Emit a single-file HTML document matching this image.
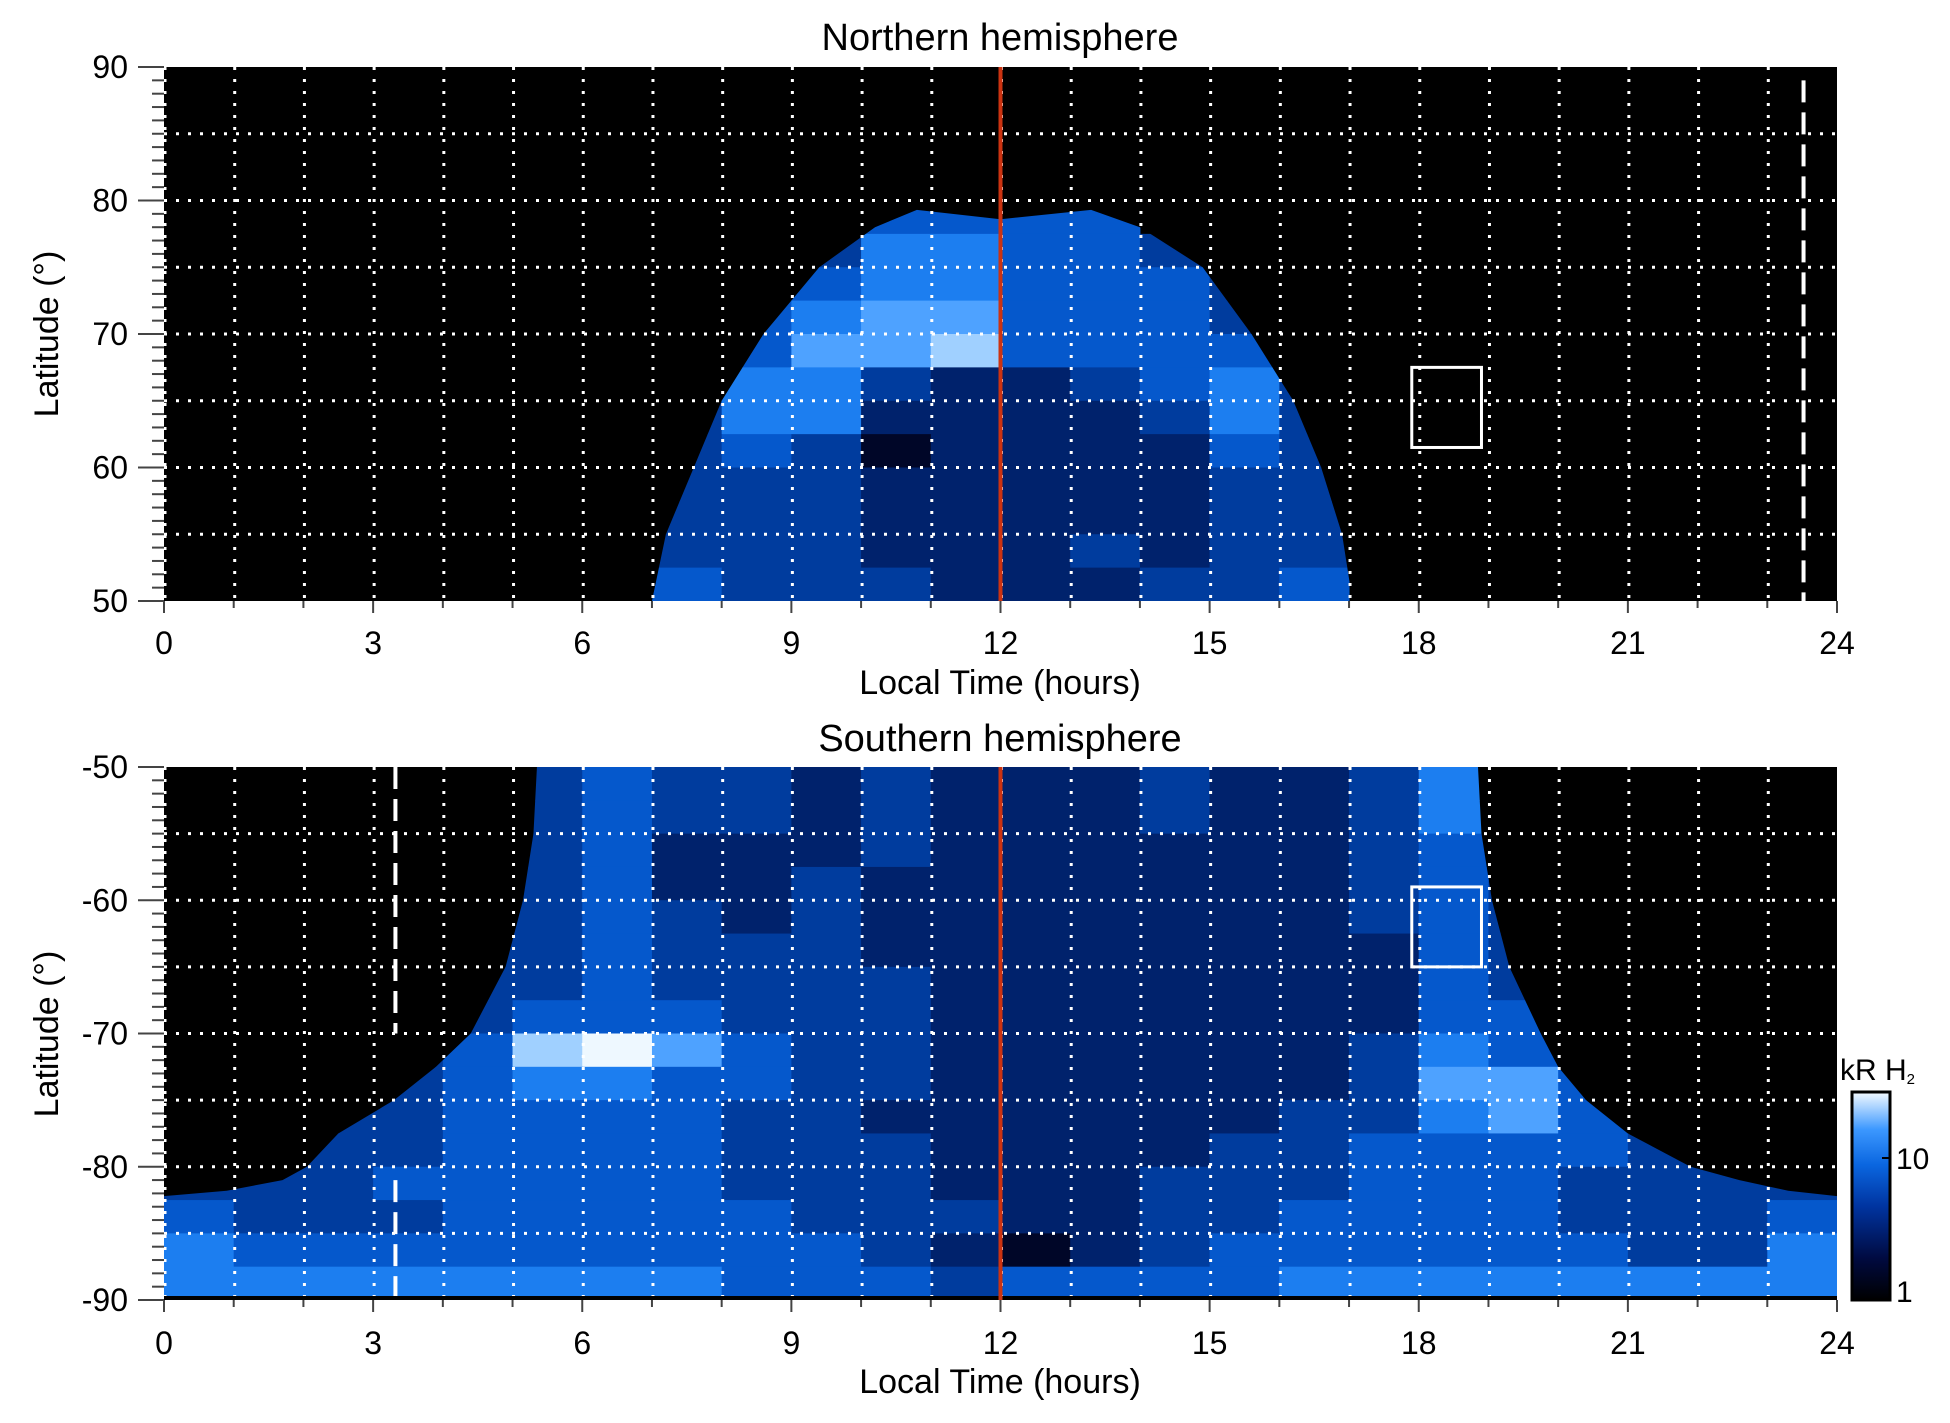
<!DOCTYPE html>
<html><head><meta charset="utf-8"><style>
html,body{margin:0;padding:0;background:#fff;}
svg{display:block;font-family:"Liberation Sans",Arial,sans-serif;}
</style></head><body>
<svg id="chart" width="1950" height="1423" viewBox="0 0 1950 1423" xmlns="http://www.w3.org/2000/svg">
<defs>
<clipPath id="clipN"><polygon id="clipNpoly" points=""/></clipPath>
<clipPath id="clipS"><polygon id="clipSpoly" points=""/></clipPath>
<linearGradient id="cbGrad" x1="0" y1="1" x2="0" y2="0">
<stop offset="0" stop-color="#000000"/><stop offset="0.2" stop-color="#000a40"/><stop offset="0.45" stop-color="#0034a0"/><stop offset="0.65" stop-color="#0a66e0"/><stop offset="0.82" stop-color="#3c98ff"/><stop offset="1" stop-color="#f4faff"/>
</linearGradient>
</defs>
<rect x="164" y="67" width="1673" height="534" fill="#000"/>
<rect x="164" y="767" width="1673" height="533" fill="#000"/>
<g id="gN" clip-path="url(#clipN)"></g>
<g id="gS" clip-path="url(#clipS)"></g>
<g id="overlay"></g>
<text x="1000" y="50" font-size="38" text-anchor="middle">Northern hemisphere</text>
<text x="1000" y="751" font-size="38" text-anchor="middle">Southern hemisphere</text>
<text x="1000" y="694" font-size="34" text-anchor="middle">Local Time (hours)</text>
<text x="1000" y="1393" font-size="34" text-anchor="middle">Local Time (hours)</text>
<text transform="translate(58,334) rotate(-90)" font-size="34" text-anchor="middle">Latitude (°)</text>
<text transform="translate(58,1034) rotate(-90)" font-size="34" text-anchor="middle">Latitude (°)</text>
<rect x="1852" y="1092" width="38" height="208" fill="url(#cbGrad)" stroke="#000" stroke-width="3"/>
<text x="1840" y="1080" font-size="30">kR H<tspan font-size="15" dy="4">2</tspan></text>
<line x1="1882" y1="1158" x2="1890" y2="1158" stroke="#000" stroke-width="2"/>
<text x="1896" y="1169" font-size="30">10</text>
<text x="1896" y="1302" font-size="30">1</text>
</svg>
<script>
const hourTicks=[0,3,6,9,12,15,18,21,24];
const northLatTicks=[50,60,70,80,90];
const southLatTicks=[-90,-80,-70,-60,-50];
const palette=["#000000","#000628","#00226c","#003c9e","#0558cc","#1c7ef0","#4ea2ff","#a0d0ff","#eef8ff"];
const rowLatN=[90,87.5,85,82.5,80,77.5,75,72.5,70,67.5,65,62.5,60,57.5,55,52.5];
const northLevels=[
[0,0,0,0,0,0,0,0,0,0,0,0,0,0,0,0,0,0,0,0,0,0,0,0],
[0,0,0,0,0,0,0,0,0,0,0,0,0,0,0,0,0,0,0,0,0,0,0,0],
[0,0,0,0,0,0,0,0,0,0,0,0,0,0,0,0,0,0,0,0,0,0,0,0],
[0,0,0,0,0,0,0,0,0,0,0,0,0,0,0,0,0,0,0,0,0,0,0,0],
[0,0,0,0,0,0,0,0,0,0,4,4,4,4,0,0,0,0,0,0,0,0,0,0],
[0,0,0,0,0,0,0,0,0,3,5,5,4,4,3,0,0,0,0,0,0,0,0,0],
[0,0,0,0,0,0,0,0,3,4,5,5,4,4,4,3,0,0,0,0,0,0,0,0],
[0,0,0,0,0,0,0,0,4,5,6,6,4,4,4,3,0,0,0,0,0,0,0,0],
[0,0,0,0,0,0,0,3,4,6,6,7,4,4,4,4,3,0,0,0,0,0,0,0],
[0,0,0,0,0,0,0,4,5,5,3,2,2,3,4,5,3,0,0,0,0,0,0,0],
[0,0,0,0,0,0,0,3,5,5,2,2,2,2,3,5,3,0,0,0,0,0,0,0],
[0,0,0,0,0,0,0,3,4,3,1,2,2,2,2,4,3,0,0,0,0,0,0,0],
[0,0,0,0,0,0,0,3,3,3,2,2,2,2,2,3,3,0,0,0,0,0,0,0],
[0,0,0,0,0,0,0,3,3,3,2,2,2,2,2,3,3,0,0,0,0,0,0,0],
[0,0,0,0,0,0,0,3,3,3,2,2,2,3,2,3,3,0,0,0,0,0,0,0],
[0,0,0,0,0,0,0,4,3,3,3,2,2,2,3,3,4,0,0,0,0,0,0,0]];
const northEdgeLat=[50,55,60,65,70,75,78,79.3];
const northDawn=[7.0,7.2,7.6,8.0,8.6,9.4,10.2,10.8];
const northDusk=[17.05,16.9,16.6,16.2,15.6,14.9,14.0,13.3];
const rowLatS=[-50,-52.5,-55,-57.5,-60,-62.5,-65,-67.5,-70,-72.5,-75,-77.5,-80,-82.5,-85,-87.5];
const southLevels=[
[0,0,0,0,0,3,4,3,3,2,3,2,2,2,3,2,2,3,5,3,0,0,0,0],
[0,0,0,0,0,3,4,3,3,2,3,2,2,2,3,2,2,3,5,3,0,0,0,0],
[0,0,0,0,0,3,4,2,2,2,3,2,2,2,2,2,2,3,4,3,0,0,0,0],
[0,0,0,0,0,3,4,2,2,3,2,2,2,2,2,2,2,3,4,3,0,0,0,0],
[0,0,0,0,0,3,4,3,2,3,2,2,2,2,2,2,2,3,4,3,0,0,0,0],
[0,0,0,0,3,3,4,3,3,3,2,2,2,2,2,2,2,2,4,3,3,0,0,0],
[0,0,0,0,3,3,4,3,3,3,3,2,2,2,2,2,2,2,4,3,3,0,0,0],
[0,0,0,0,3,4,4,4,3,3,3,2,2,2,2,2,2,2,4,4,3,0,0,0],
[0,0,0,3,4,7,8,6,4,3,3,2,2,2,2,2,2,3,5,4,3,3,0,0],
[0,0,0,3,4,5,5,4,4,3,3,2,2,2,2,2,2,3,6,6,4,3,0,0],
[0,0,3,3,4,4,4,4,3,3,2,2,2,2,2,2,3,3,5,6,4,3,0,0],
[0,0,3,3,4,4,4,4,3,3,3,2,2,2,2,3,3,4,4,4,4,3,3,0],
[3,3,3,4,4,4,4,4,3,3,3,2,2,2,3,3,3,4,4,4,3,3,3,3],
[4,3,3,3,4,4,4,4,4,3,3,3,2,2,3,3,4,4,4,4,3,3,3,4],
[5,4,4,4,4,4,4,4,4,4,3,2,1,2,3,4,4,4,4,4,4,3,3,5],
[5,5,5,5,5,5,5,5,4,4,4,3,4,4,4,4,5,5,5,5,5,5,5,5]];
const southEdgeLat=[-50,-55,-60,-65,-70,-72.5,-75,-77.5,-80,-81,-81.8,-82.2];
const southDawn=[5.35,5.3,5.15,4.9,4.4,3.9,3.3,2.5,2.05,1.7,0.9,0];
const southDusk=[18.85,18.9,19.05,19.3,19.75,20.0,20.4,21.0,21.9,22.6,23.3,24];
const northBox=[17.9,18.9,61.5,67.5];
const southBox=[17.9,18.9,-59,-65];
const northDashHour=23.52;
const southDashHour=3.32;
const noonHour=12;

const NS="http://www.w3.org/2000/svg";
const svg=document.getElementById('chart');
function xS(h){return 164+h*1673/24;}
function yN(l){return 67+(90-l)*534/40;}
function yS(l){return 767+(-50-l)*533/40;}
function mk(tag,attrs,parent){const e=document.createElementNS(NS,tag);for(const k in attrs)e.setAttribute(k,attrs[k]);(parent||svg).appendChild(e);return e;}

let pn=[];
for(let i=0;i<northEdgeLat.length;i++)pn.push(xS(northDawn[i])+','+yN(northEdgeLat[i]));
pn.push(xS(12)+','+yN(78.6));
for(let i=northEdgeLat.length-1;i>=0;i--)pn.push(xS(northDusk[i])+','+yN(northEdgeLat[i]));
document.getElementById('clipNpoly').setAttribute('points',pn.join(' '));
let ps=[];
for(let i=0;i<southEdgeLat.length;i++)ps.push(xS(southDawn[i])+','+yS(southEdgeLat[i]));
ps.push(xS(0)+','+yS(-89.7));ps.push(xS(24)+','+yS(-89.7));
for(let i=southEdgeLat.length-1;i>=0;i--)ps.push(xS(southDusk[i])+','+yS(southEdgeLat[i]));
document.getElementById('clipSpoly').setAttribute('points',ps.join(' '));

const gN=document.getElementById('gN'),gS=document.getElementById('gS');
for(let r=0;r<rowLatN.length;r++)for(let c=0;c<24;c++){
  const v=northLevels[r][c];if(!v)continue;
  const e=mk('rect',{x:xS(c),y:yN(rowLatN[r]),width:xS(c+1)-xS(c)+0.5,height:yN(rowLatN[r]-2.5)-yN(rowLatN[r])+0.5,fill:palette[v]},gN);
  
  
}
for(let r=0;r<rowLatS.length;r++)for(let c=0;c<24;c++){
  const v=southLevels[r][c];if(!v)continue;
  const e=mk('rect',{x:xS(c),y:yS(rowLatS[r]),width:xS(c+1)-xS(c)+0.5,height:yS(rowLatS[r]-2.5)-yS(rowLatS[r])+0.5,fill:palette[v]},gS);
  
  
}

function grid(yf,top,bot,lats,prefix){
  for(let h=0;h<24;h++){
    const e=mk('line',{x1:xS(h)+1,y1:yf(top),x2:xS(h)+1,y2:yf(bot),stroke:'#fff','stroke-width':3,'stroke-dasharray':'3 9'});
    
    
  }
  for(const l of lats){
    const e=mk('line',{x1:164,y1:yf(l),x2:1837,y2:yf(l),stroke:'#fff','stroke-width':3,'stroke-dasharray':'3 9'});
    
    
  }
}
grid(yN,90,50,[55,60,65,70,75,80,85],'north');
grid(yS,-50,-90,[-55,-60,-65,-70,-75,-80,-85],'south');

let d=mk('line',{x1:xS(northDashHour),y1:yN(89),x2:xS(northDashHour),y2:yN(50),stroke:'#fff','stroke-width':4,'stroke-dasharray':'22 10'});


d=mk('line',{x1:xS(southDashHour),y1:yS(-50),x2:xS(southDashHour),y2:yS(-70),stroke:'#fff','stroke-width':4,'stroke-dasharray':'22 10'});


d=mk('line',{x1:xS(southDashHour),y1:yS(-81),x2:xS(southDashHour),y2:yS(-90),stroke:'#fff','stroke-width':4,'stroke-dasharray':'22 10'});



let b=mk('rect',{x:xS(northBox[0]),y:yN(northBox[3]),width:xS(northBox[1])-xS(northBox[0]),height:yN(northBox[2])-yN(northBox[3]),fill:'none',stroke:'#fff','stroke-width':3});


b=mk('rect',{x:xS(southBox[0]),y:yS(southBox[2]),width:xS(southBox[1])-xS(southBox[0]),height:yS(southBox[3])-yS(southBox[2]),fill:'none',stroke:'#fff','stroke-width':3});



mk('rect',{x:164,y:1296,width:1673,height:4,fill:'#000'});

let r1=mk('line',{x1:xS(noonHour),y1:67,x2:xS(noonHour),y2:601,stroke:'#cc3311','stroke-width':4});


let r2=mk('line',{x1:xS(noonHour),y1:767,x2:xS(noonHour),y2:1300,stroke:'#cc3311','stroke-width':4});



function yAxis(yf,lo,hi,ticks,prefix){
  for(let l=lo;l<=hi;l++){
    const major=(l%10===0);
    mk('line',{x1:major?138:152,y1:yf(l),x2:164,y2:yf(l),stroke:'#444','stroke-width':2});
  }
  for(const t of ticks){
    const e=mk('text',{x:128,y:yf(t)+11,'font-size':32,'text-anchor':'end'});
    e.textContent=String(t);
    
    
  }
}
yAxis(yN,50,90,northLatTicks,'north');
yAxis(yS,-90,-50,southLatTicks,'south');
function xAxis(yb,ly,prefix){
  for(let h=0;h<=24;h++){
    mk('line',{x1:xS(h),y1:yb,x2:xS(h),y2:yb+(h%3===0?12:7),stroke:'#444','stroke-width':2});
  }
  for(const t of hourTicks){
    const e=mk('text',{x:xS(t),y:ly,'font-size':32,'text-anchor':'middle'});
    e.textContent=String(t);
    
    
  }
}
xAxis(601,654,'north');
xAxis(1300,1354,'south');
</script>
</body></html>
